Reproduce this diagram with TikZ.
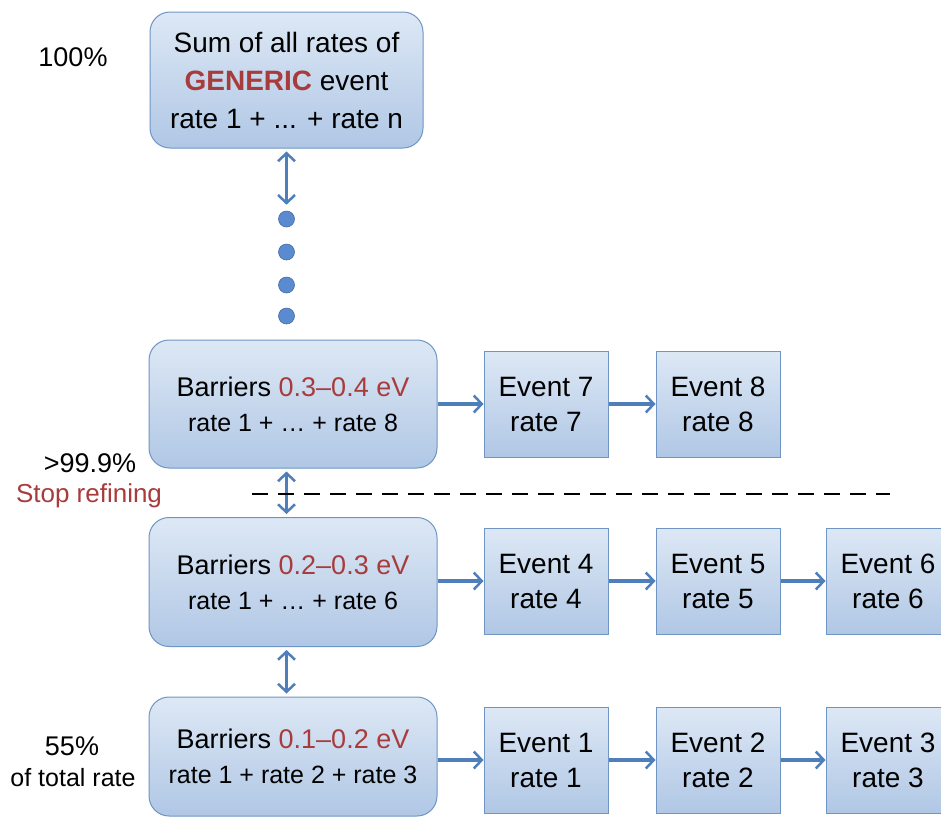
\documentclass[tikz,border=0pt]{standalone}
\usepackage{fontspec}
\setmainfont{Liberation Sans}
\usetikzlibrary{arrows.meta}
\definecolor{boxtop}{HTML}{DDE8F5}
\definecolor{boxbot}{HTML}{B0C7E5}
\definecolor{boxline}{HTML}{6F95C4}
\definecolor{arr}{HTML}{4F7FBA}
\definecolor{dotc}{HTML}{5A8AD0}
\definecolor{redtxt}{HTML}{A83C3C}
\tikzset{
  bigbox/.style={draw=boxline, line width=1pt, top color=boxtop, bottom color=boxbot,
    rounded corners=20pt, align=center, inner sep=0pt},
  evbox/.style={draw=boxline, line width=1pt, top color=boxtop, bottom color=boxbot,
    minimum width=124pt, minimum height=106pt, align=center, inner sep=0pt,
    font=\fontsize{28}{35}\selectfont},
  barb/.tip={Straight Barb[length=8pt,width=17pt,line width=2.5pt]},
  dbl/.style={draw=arr, line width=3.5pt, barb-barb},
  fwd/.style={draw=arr, line width=4.5pt, -barb},
  dotball/.style={circle, minimum size=16pt, inner sep=0pt, fill=dotc, draw=dotc!80!black, line width=0.6pt},
  sidelbl/.style={align=center, inner sep=0pt},
}
\begin{document}
\begin{tikzpicture}[x=1pt,y=-1pt]
\clip (0,0) rectangle (941,820);
\fill[white] (0,0) rectangle (941,820);

% main boxes
\node[bigbox, minimum width=273pt, minimum height=136pt, font=\fontsize{28}{38}\selectfont] (top) at (286.5,80)
  {Sum of all rates of\\\textcolor{redtxt}{\bfseries GENERIC} event\\rate 1 + ... + rate n};
\node[bigbox, minimum width=288pt, minimum height=128pt, font=\fontsize{27}{35}\selectfont] (b3) at (293,404)
  {Barriers \textcolor{redtxt}{0.3–0.4 eV}\\{\fontsize{25}{35}\selectfont rate 1 + … + rate 8}};
\node[bigbox, minimum width=288pt, minimum height=129pt, font=\fontsize{27}{35}\selectfont] (b2) at (293,582)
  {Barriers \textcolor{redtxt}{0.2–0.3 eV}\\{\fontsize{25}{35}\selectfont rate 1 + … + rate 6}};
\node[bigbox, minimum width=288pt, minimum height=119pt, font=\fontsize{27}{35}\selectfont] (b1) at (293,756.5)
  {Barriers \textcolor{redtxt}{0.1–0.2 eV}\\{\fontsize{25}{35}\selectfont rate 1 + rate 2 + rate 3}};

% event boxes
\node[evbox] (e7) at (546,404) {Event 7\\rate 7};
\node[evbox] (e8) at (718,404) {Event 8\\rate 8};
\node[evbox] (e4) at (546,581) {Event 4\\rate 4};
\node[evbox] (e5) at (718,581) {Event 5\\rate 5};
\node[evbox] (e6) at (888,581) {Event 6\\rate 6};
\node[evbox] (e1) at (546,760) {Event 1\\rate 1};
\node[evbox] (e2) at (718,760) {Event 2\\rate 2};
\node[evbox] (e3) at (888,760) {Event 3\\rate 3};

% dots
\node[dotball] (d1) at (286.5,219) {};
\node[dotball] (d2) at (286.5,252) {};
\node[dotball] (d3) at (286.5,285) {};
\node[dotball] (d4) at (286.5,316) {};

% vertical double arrows
\draw[dbl] ([yshift=-3pt]top.south) -- ([yshift=6pt]d1.north);
\draw[dbl] ([yshift=-3pt]b3.south -| top.south) -- ([yshift=3pt]b2.north -| top.south);
\draw[dbl] ([yshift=-3pt]b2.south -| top.south) -- ([yshift=3pt]b1.north -| top.south);

% horizontal arrows
\draw[fwd, line width=3.5pt] (b3.east) -- (e7.west);
\draw[fwd, line width=3.5pt] (e7.east) -- (e8.west);
\draw[fwd] (b2.east |- e4.west) -- (e4.west);
\draw[fwd] (e4.east) -- (e5.west);
\draw[fwd] (e5.east) -- (e6.west);
\draw[fwd] (b1.east |- e1.west) -- (e1.west);
\draw[fwd] (e1.east) -- (e2.west);
\draw[fwd] (e2.east) -- (e3.west);

% dashed separator
\coordinate (dl) at (252,494);
\coordinate (dr) at (890,494);
\draw[black, line width=2.5pt, dash pattern=on 16pt off 10pt] (dl) -- (dr);

% side labels
\node[sidelbl, font=\fontsize{27}{30}\selectfont] (l100) at (73,57) {100\%};
\node[sidelbl, font=\fontsize{27}{30}\selectfont] (l999) at (90,463) {>99.9\%};
\node[sidelbl, font=\fontsize{26}{30}\selectfont, text=redtxt] (lstop) at (89,496) {Stop refining};
\node[sidelbl, font=\fontsize{27}{30}\selectfont] (l55) at (72,746) {55\%};
\node[sidelbl, font=\fontsize{25}{30}\selectfont] (ltot) at (73,778) {of total rate};
\end{tikzpicture}
\end{document}
